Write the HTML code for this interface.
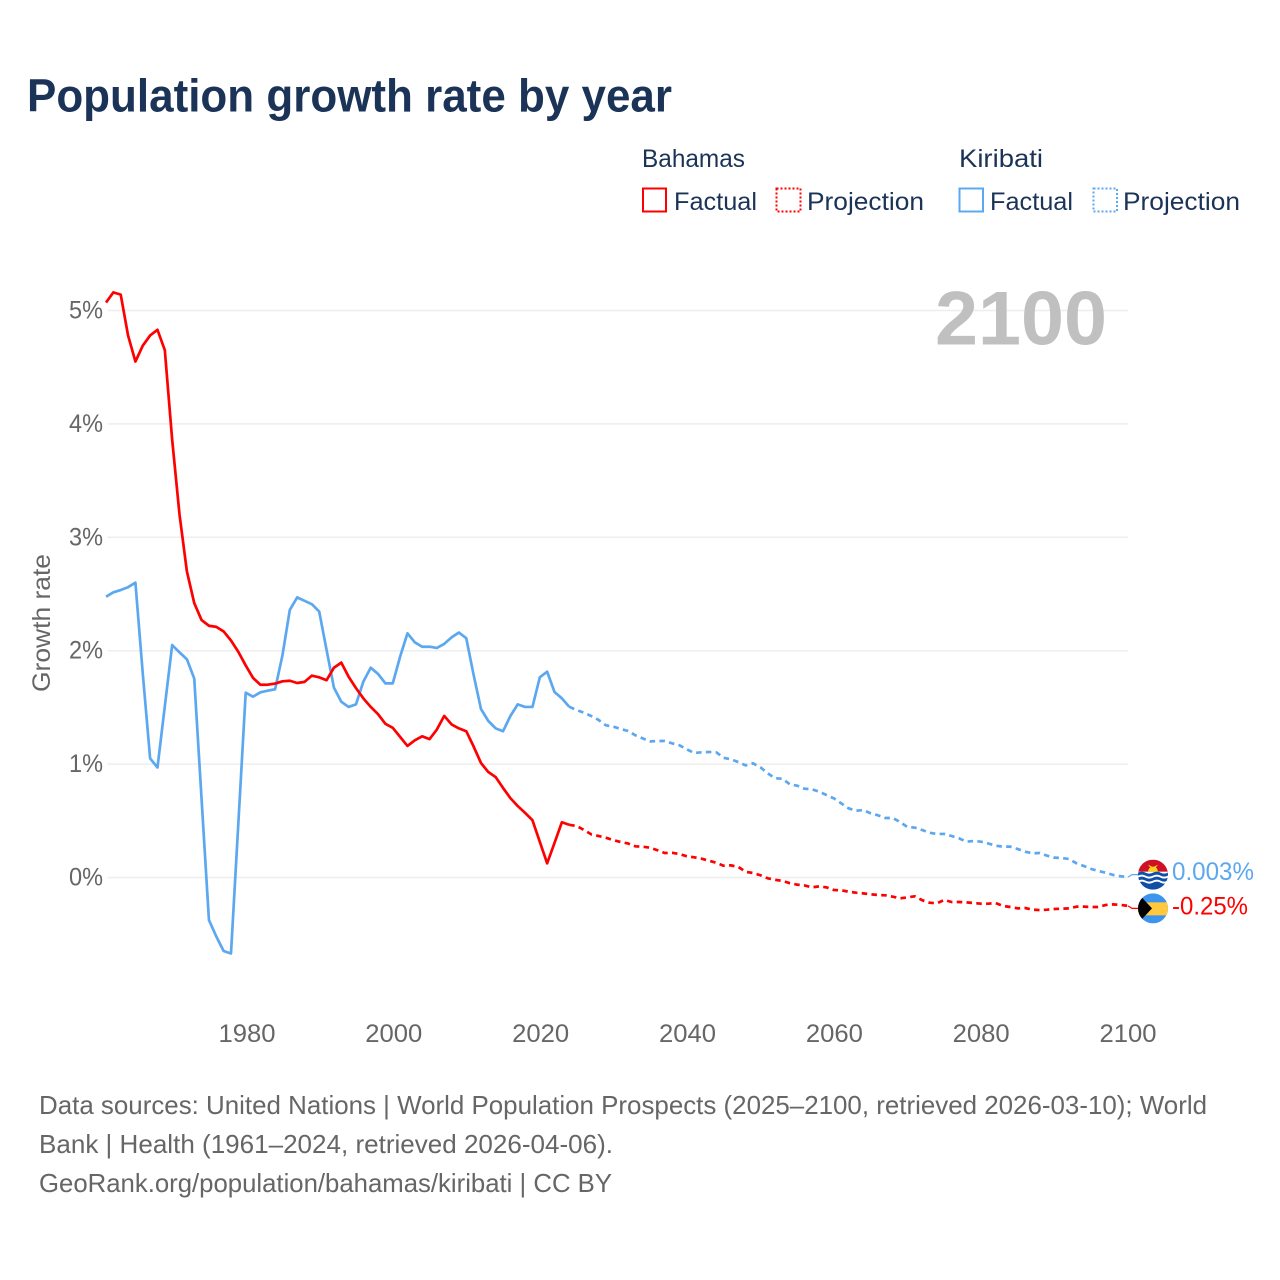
<!DOCTYPE html>
<html lang="en">
<head>
<meta charset="utf-8">
<title>Population growth rate by year</title>
<style>
html,body{margin:0;padding:0;background:#fff;width:1280px;height:1280px;overflow:hidden}
svg{display:block}
text{font-family:"Liberation Sans",sans-serif}
</style>
</head>
<body>
<svg id="chart" width="1280" height="1280" viewBox="0 0 1280 1280" xmlns="http://www.w3.org/2000/svg">
  <defs>
    <clipPath id="flag-clip-k"><circle cx="0" cy="0" r="15"/></clipPath>
    <clipPath id="flag-clip-b"><circle cx="0" cy="0" r="15"/></clipPath>
  </defs>
  <rect x="0" y="0" width="1280" height="1280" fill="#fff"/>
  <text x="27" y="111.500" font-size="46" font-weight="700" fill="#1a3357" textLength="645" lengthAdjust="spacingAndGlyphs">Population growth rate by year</text>

  <g font-size="25" fill="#1a3357">
    <text x="642" y="167" textLength="103" lengthAdjust="spacingAndGlyphs">Bahamas</text>
    <rect x="643" y="188.500" width="23" height="23" fill="none" stroke="#ff0000" stroke-width="2"/>
    <text x="674" y="210" textLength="83" lengthAdjust="spacingAndGlyphs">Factual</text>
    <rect x="776.500" y="188.500" width="24" height="23" fill="none" stroke="#ff0000" stroke-width="2" stroke-dasharray="2 2"/>
    <text x="807" y="210" textLength="117" lengthAdjust="spacingAndGlyphs">Projection</text>
    <text x="959" y="167" textLength="84" lengthAdjust="spacingAndGlyphs">Kiribati</text>
    <rect x="959.500" y="188.500" width="23.500" height="23" fill="none" stroke="#5ca8f0" stroke-width="2"/>
    <text x="990" y="210" textLength="83" lengthAdjust="spacingAndGlyphs">Factual</text>
    <rect x="1093.500" y="188.500" width="23.500" height="23" fill="none" stroke="#5ca8f0" stroke-width="2" stroke-dasharray="2 2"/>
    <text x="1123" y="210" textLength="117" lengthAdjust="spacingAndGlyphs">Projection</text>
  </g>

  <g id="grid"></g>
  <text x="935" y="344.500" font-size="76" font-weight="700" fill="#c0c0c0" textLength="172" lengthAdjust="spacingAndGlyphs">2100</text>
  <g id="y-ticks" font-size="25" fill="#666666"></g>
  <g id="x-ticks" font-size="25" fill="#666666"></g>
  <text transform="translate(50,623) rotate(-90)" text-anchor="middle" font-size="25" fill="#666666" textLength="138" lengthAdjust="spacingAndGlyphs">Growth rate</text>

  <g id="series"></g>

  <g id="flag-kiribati">
    <g clip-path="url(#flag-clip-k)">
      <rect x="-15" y="-15" width="30" height="15" fill="#ce1126"/>
      <path d="M-5 -3 A5 5 0 0 1 5 -3 Z" fill="#fcd116"/>
      <path d="M-5 -10 L0 -7.500 L5 -10 L2 -6 L-2 -6 Z" fill="#fcd116"/>
      <rect x="-15" y="-3" width="30" height="18" fill="#ffffff"/>
      <path d="M-15 -2 Q-11 -4 -7.500 -2 T0 -2 T7.500 -2 T15 -2 V1 Q11 3 7.500 1 T0 1 T-7.500 1 T-15 1 Z" fill="#0f4fa8"/>
      <path d="M-15 3 Q-11 1 -7.500 3 T0 3 T7.500 3 T15 3 V6 Q11 8 7.500 6 T0 6 T-7.500 6 T-15 6 Z" fill="#0f4fa8"/>
      <path d="M-15 8 Q-11 6 -7.500 8 T0 8 T7.500 8 T15 8 V15 H-15 Z" fill="#0f4fa8"/>
    </g>
  </g>
  <g id="flag-bahamas">
    <g clip-path="url(#flag-clip-b)">
      <rect x="-15" y="-15" width="30" height="30" fill="#3d94ee"/>
      <rect x="-15" y="-6" width="30" height="13" fill="#ffc83d"/>
      <path d="M-15 -15 L-1 0 L-15 15 Z" fill="#000000"/>
    </g>
  </g>
  <text id="label-kiribati" x="1172" font-size="25" fill="#5ca8f0" textLength="82" lengthAdjust="spacingAndGlyphs"></text>
  <text id="label-bahamas" x="1172" font-size="25" fill="#ff0000" textLength="76" lengthAdjust="spacingAndGlyphs"></text>

  <g font-size="26" fill="#666666">
    <text x="39" y="1114" textLength="1168" lengthAdjust="spacingAndGlyphs">Data sources: United Nations | World Population Prospects (2025–2100, retrieved 2026-03-10); World</text>
    <text x="39" y="1153" textLength="574" lengthAdjust="spacingAndGlyphs">Bank | Health (1961–2024, retrieved 2026-04-06).</text>
    <text x="39" y="1192" textLength="573" lengthAdjust="spacingAndGlyphs">GeoRank.org/population/bahamas/kiribati | CC BY</text>
  </g>
</svg>
<script>
const factualStartYear = 1961;
const projectionStartYear = 2024;
const yTicks = [0, 1, 2, 3, 4, 5];
const xTicks = [1980, 2000, 2020, 2040, 2060, 2080, 2100];
const bahamasFactual = [
  5.07,5.16,5.14,4.78,4.55,4.69,4.78,4.83,4.65,3.86,
  3.2,2.70,2.42,2.27,2.22,2.21,2.17,2.09,1.99,1.87,
  1.76,1.70,1.70,1.71,1.73,1.735,1.715,1.725,1.78,1.765,
  1.74,1.85,1.895,1.77,1.67,1.58,1.505,1.44,1.355,1.32,
  1.24,1.16,1.21,1.245,1.22,1.305,1.425,1.35,1.315,1.29,
  1.155,1.01,0.93,0.885,0.79,0.70,0.63,0.57,0.505,0.315,
  0.125,0.305,0.487,0.465];
const bahamasProjection = [
  0.465,0.454,0.42,0.38,0.366,0.35,0.33,0.313,0.30,0.275,
  0.272,0.263,0.24,0.216,0.218,0.207,0.187,0.178,0.166,0.148,
  0.13,0.104,0.107,0.093,0.05,0.04,0.02,-0.007,-0.02,-0.03,
  -0.05,-0.063,-0.07,-0.087,-0.078,-0.087,-0.11,-0.113,-0.125,-0.134,
  -0.14,-0.148,-0.154,-0.157,-0.169,-0.184,-0.175,-0.166,-0.20,-0.222,
  -0.228,-0.198,-0.216,-0.216,-0.219,-0.225,-0.231,-0.231,-0.225,-0.251,
  -0.26,-0.272,-0.269,-0.284,-0.287,-0.284,-0.278,-0.275,-0.272,-0.257,
  -0.257,-0.26,-0.26,-0.242,-0.237,-0.242,-0.25];
const kiribatiFactual = [
  2.476,2.515,2.535,2.56,2.60,1.80,1.05,0.97,1.51,2.05,
  1.985,1.925,1.755,0.69,-0.375,-0.52,-0.648,-0.67,0.48,1.63,
  1.595,1.633,1.647,1.66,1.96,2.36,2.47,2.44,2.41,2.345,
  2.006,1.674,1.55,1.504,1.527,1.727,1.85,1.795,1.712,1.712,
  1.947,2.153,2.074,2.035,2.035,2.024,2.06,2.118,2.16,2.11,
  1.786,1.486,1.38,1.315,1.29,1.424,1.527,1.504,1.504,1.765,
  1.815,1.636,1.58,1.506];
const kiribatiProjection = [
  1.506,1.477,1.453,1.424,1.389,1.342,1.33,1.31,1.292,1.254,
  1.227,1.20,1.204,1.204,1.183,1.166,1.13,1.098,1.104,1.107,
  1.104,1.056,1.042,1.018,0.989,1.007,0.972,0.919,0.875,0.871,
  0.822,0.81,0.783,0.778,0.757,0.727,0.698,0.654,0.61,0.589,
  0.595,0.566,0.548,0.525,0.525,0.489,0.445,0.44,0.419,0.395,
  0.384,0.384,0.366,0.346,0.316,0.322,0.316,0.30,0.28,0.272,
  0.272,0.251,0.228,0.213,0.216,0.192,0.175,0.172,0.163,0.125,
  0.101,0.075,0.057,0.042,0.022,0.011,0.003];
const kiribatiEndLabel = "0.003%";
const bahamasEndLabel = "-0.25%";

const SVGNS = "http://www.w3.org/2000/svg";
const plotLeft = 106, plotRight = 1128, minYear = 1961, maxYear = 2100;
const gridLeft = 107.5;
const labelLeft = 107.5;
const zeroY = 877.5, pxPerPercent = 113.4;
function xScale(year) { return plotLeft + (year - minYear) * (plotRight - plotLeft) / (maxYear - minYear); }
function xLabelScale(year) { return labelLeft + (year - minYear) * (plotRight - labelLeft) / (maxYear - minYear); }
function yScale(value) { return zeroY - value * pxPerPercent; }
function make(tag, parent, attrs) {
  const el = document.createElementNS(SVGNS, tag);
  for (const k in attrs) el.setAttribute(k, attrs[k]);
  parent.appendChild(el);
  return el;
}
function pathFor(values, startYear) {
  return values.map((v, i) => (i ? "L" : "M") + xScale(startYear + i).toFixed(2) + " " + yScale(v).toFixed(2)).join(" ");
}

const gridGroup = document.getElementById("grid");
const yTickGroup = document.getElementById("y-ticks");
yTicks.forEach(function (v) {
  const line = make("line", gridGroup, { x1: gridLeft, x2: plotRight, y1: yScale(v), y2: yScale(v), stroke: "#eeeeee", "stroke-width": 1.5 });
  
  
  const label = make("text", yTickGroup, { x: 69, y: yScale(v) + 8, textLength: 34, lengthAdjust: "spacingAndGlyphs" });
  
  
  label.textContent = v + "%";
});
const xTickGroup = document.getElementById("x-ticks");
xTicks.forEach(function (year) {
  const label = make("text", xTickGroup, { x: xLabelScale(year) - 28.5, y: 1042, textLength: 57, lengthAdjust: "spacingAndGlyphs" });
  
  
  label.textContent = String(year);
});

const seriesGroup = document.getElementById("series");
const strokeFill = { fill: "none", "stroke-width": 2.7, "stroke-linejoin": "round" };
const dashPattern = "5.5 4.3";

const kFactualPath = make("path", seriesGroup, Object.assign({ d: pathFor(kiribatiFactual, factualStartYear), stroke: "#5ca8f0" }, strokeFill));


const kProjectionPath = make("path", seriesGroup, Object.assign({ d: pathFor(kiribatiProjection, projectionStartYear), stroke: "#5ca8f0", "stroke-dasharray": dashPattern }, strokeFill));


const bFactualPath = make("path", seriesGroup, Object.assign({ d: pathFor(bahamasFactual, factualStartYear), stroke: "#ff0000" }, strokeFill));


const bProjectionPath = make("path", seriesGroup, Object.assign({ d: pathFor(bahamasProjection, projectionStartYear), stroke: "#ff0000", "stroke-dasharray": dashPattern }, strokeFill));



const kEndY = yScale(kiribatiProjection[kiribatiProjection.length - 1]);
const bEndY = yScale(bahamasProjection[bahamasProjection.length - 1]);
const kLabelY = kEndY - 2.5;
const bLabelY = bEndY + 2.5;
const kConnector = make("path", seriesGroup, { d: "M" + plotRight + " " + kEndY + " L" + (plotRight + 4) + " " + kLabelY + " L1140 " + kLabelY, fill: "none", stroke: "#5ca8f0", "stroke-width": 1.2 });


const bConnector = make("path", seriesGroup, { d: "M" + plotRight + " " + bEndY + " L" + (plotRight + 4) + " " + bLabelY + " L1140 " + bLabelY, fill: "none", stroke: "#ff0000", "stroke-width": 1.2 });



document.getElementById("flag-kiribati").setAttribute("transform", "translate(1153," + kLabelY + ")");
document.getElementById("flag-bahamas").setAttribute("transform", "translate(1153," + bLabelY + ")");
const kLabel = document.getElementById("label-kiribati");
kLabel.setAttribute("y", kLabelY + 5.5);
kLabel.textContent = kiribatiEndLabel;
const bLabel = document.getElementById("label-bahamas");
bLabel.setAttribute("y", bLabelY + 6);
bLabel.textContent = bahamasEndLabel;
</script>
</body>
</html>
